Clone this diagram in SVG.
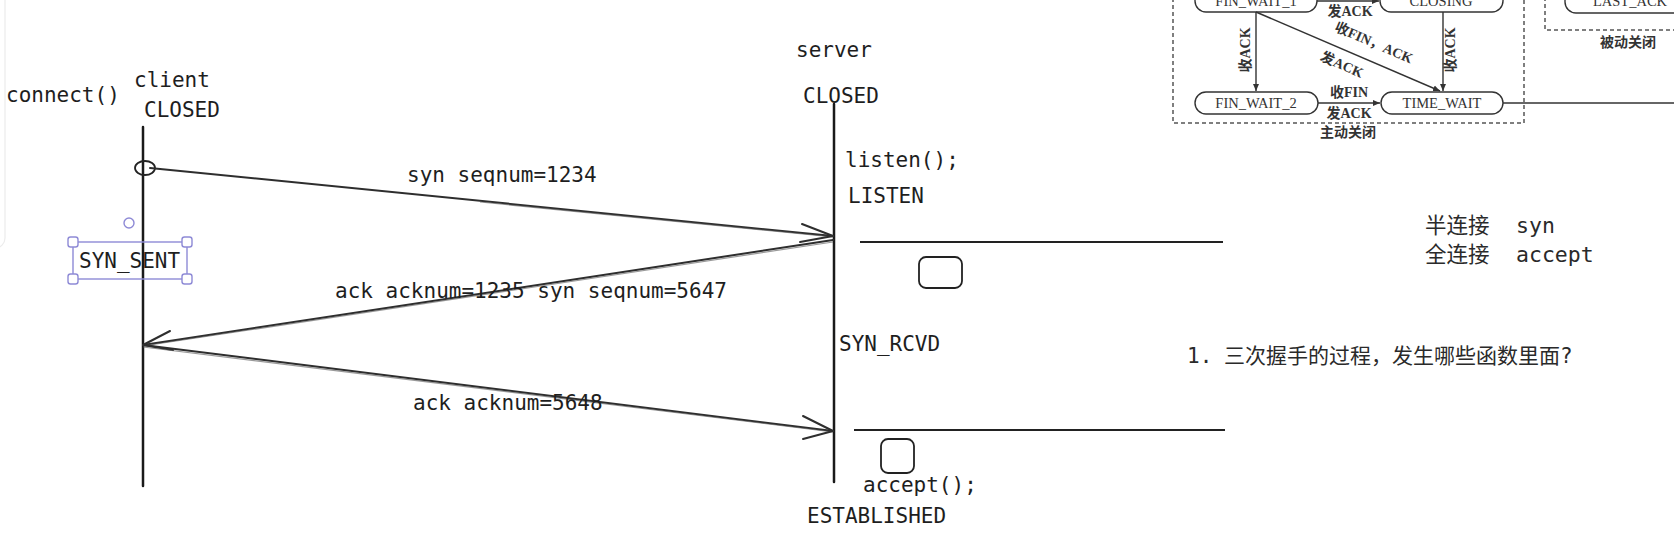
<svg xmlns="http://www.w3.org/2000/svg" width="1674" height="535" viewBox="0 0 1674 535">
<style>
.mono{font-family:"DejaVu Sans Mono","Noto Sans CJK SC",monospace;font-size:21px;fill:#1e1e1e}
.cjk{font-family:"DejaVu Sans Mono","Noto Sans CJK SC",sans-serif;fill:#2a2a2a}
.life{stroke:#1a1a1a;stroke-width:2.5;fill:none;stroke-linecap:round}
.msg{stroke:#2e2e2e;stroke-width:2;fill:none;stroke-linecap:round;stroke-linejoin:round}
.msg2{stroke:#555;stroke-width:1.2;fill:none;opacity:0.6}
.hand{stroke:#222;stroke-width:1.8;fill:none}
.sel{stroke:#8e8ad6;stroke-width:1.4;fill:none}
.handle{stroke:#8e8ad6;stroke-width:1.4;fill:#fff}
.fig{stroke:#333;stroke-width:1.4;fill:#fff}
.figl{stroke:#333;stroke-width:1.4;fill:none}
.dash{stroke:#555;stroke-width:1.5;fill:none;stroke-dasharray:4 3}
.st{font-family:"Liberation Serif","Noto Sans CJK SC",serif;font-size:14.5px;fill:#333;text-anchor:middle}
.lb{font-family:"Liberation Serif","Noto Sans CJK SC",serif;font-size:14px;font-weight:bold;fill:#333;text-anchor:middle}
</style>
<defs>
<marker id="ah" markerWidth="8" markerHeight="8" refX="7" refY="4" orient="auto" markerUnits="userSpaceOnUse">
<path d="M0,1 L7,4 L0,7 Z" fill="#333"/>
</marker>
</defs>
<rect width="1674" height="535" fill="#fff"/>
<rect x="-20" y="-20" width="25" height="268" rx="10" fill="none" stroke="#ececec" stroke-width="1.2"/>

<!-- Top-right textbook figure -->
<g id="figure">
<rect class="dash" x="1173" y="-20" width="351" height="143"/>
<rect class="dash" x="1545" y="-20" width="160" height="50"/>
<g id="fin_wait_1"><rect class="fig" x="1195" y="-12" width="122" height="24" rx="11"/><text class="st" x="1256" y="6">FIN_WAIT_1</text></g>
<g id="closing"><rect class="fig" x="1380" y="-12" width="123" height="24" rx="11"/><text class="st" x="1441" y="6">CLOSING</text></g>
<g id="last_ack"><rect class="fig" x="1565" y="-12" width="140" height="25" rx="11"/><text class="st" x="1630" y="6">LAST_ACK</text></g>
<g id="fin_wait_2"><rect class="fig" x="1195" y="92" width="123" height="22" rx="11"/><text class="st" x="1256" y="108">FIN_WAIT_2</text></g>
<g id="time_wait"><rect class="fig" x="1381" y="92" width="122" height="22" rx="11"/><text class="st" x="1442" y="108">TIME_WAIT</text></g>
<g id="fig_edges">
<line class="figl" x1="1317" y1="1" x2="1379" y2="1" marker-end="url(#ah)"/>
<line class="figl" x1="1256" y1="12" x2="1256" y2="91" stroke-width="1.8" marker-end="url(#ah)"/>
<line class="figl" x1="1256" y1="12" x2="1440" y2="91" marker-end="url(#ah)"/>
<line class="figl" x1="1443" y1="12" x2="1443" y2="91" marker-end="url(#ah)"/>
<line class="figl" x1="1318" y1="103" x2="1380" y2="103" stroke-width="2" marker-end="url(#ah)"/>
<line class="figl" x1="1503" y1="103" x2="1674" y2="103" stroke-width="2.6"/>
</g>
<text class="lb" x="1350" y="16">发ACK</text>
<text class="lb" transform="translate(1250,50) rotate(-90)">收ACK</text>
<text class="lb" transform="translate(1455,50) rotate(-90)">收ACK</text>
<text class="lb" transform="translate(1372,47) rotate(23.5)">收FIN，ACK</text>
<text class="lb" transform="translate(1340,69) rotate(23.5)">发ACK</text>
<text class="lb" x="1349" y="97">收FIN</text>
<text class="lb" x="1349" y="118">发ACK</text>
<text class="lb" x="1348" y="137">主动关闭</text>
<text class="lb" x="1628" y="47">被动关闭</text>
</g>

<!-- Client lifeline -->
<g id="client">
<text class="mono" x="6" y="102">connect()</text>
<text class="mono" x="134" y="87">client</text>
<text class="mono" x="144" y="117">CLOSED</text>
<line class="life" x1="143" y1="127" x2="143" y2="486"/>
<ellipse class="hand" cx="145" cy="168" rx="10" ry="7"/>
</g>

<g id="syn_sent">
<text class="mono" x="79" y="268">SYN_SENT</text>
<rect class="sel" x="73" y="242" width="114" height="37"/>
<rect class="handle" x="68" y="237" width="10" height="10" rx="2.5"/>
<rect class="handle" x="182" y="237" width="10" height="10" rx="2.5"/>
<rect class="handle" x="68" y="274" width="10" height="10" rx="2.5"/>
<rect class="handle" x="182" y="274" width="10" height="10" rx="2.5"/>
<circle class="handle" cx="129" cy="223" r="5"/>
</g>

<!-- Server lifeline -->
<g id="server">
<text class="mono" x="796" y="57">server</text>
<text class="mono" x="803" y="103">CLOSED</text>
<line class="life" x1="834" y1="104" x2="834" y2="482"/>
<text class="mono" x="845" y="167">listen();</text>
<text class="mono" x="848" y="203">LISTEN</text>
<text class="mono" x="839" y="351">SYN_RCVD</text>
<text class="mono" x="863" y="492">accept();</text>
<text class="mono" x="807" y="523">ESTABLISHED</text>
</g>

<g id="syn_queue">
<line class="hand" x1="860" y1="242" x2="1223" y2="242"/>
<rect class="hand" x="919" y="257" width="43" height="31" rx="7"/>
</g>
<g id="accept_queue">
<line class="hand" x1="854" y1="430" x2="1225" y2="430"/>
<rect class="hand" x="881" y="439" width="33" height="34" rx="7"/>
</g>

<!-- Connectors -->
<g id="connectors">
<g id="msg_syn">
<line class="msg" x1="150" y1="168" x2="833" y2="236"/>
<line class="msg2" x1="480" y1="202" x2="833" y2="237"/>
<polyline class="msg" points="802,224 833,236 800,242"/>
</g>
<g id="msg_synack">
<line class="msg" x1="833" y1="240" x2="143" y2="345"/>
<line class="msg2" x1="833" y1="242" x2="143" y2="346"/>
<polyline class="msg" points="170,331 143,345 173,350"/>
</g>
<g id="msg_ack">
<line class="msg" x1="143" y1="345" x2="833" y2="431"/>
<line class="msg2" x1="143" y1="347" x2="833" y2="432"/>
<polyline class="msg" points="803,416 833,431 803,439"/>
</g>
</g>

<g id="labels">
<text class="mono" x="407" y="182">syn seqnum=1234</text>
<text class="mono" x="335" y="298">ack acknum=1235 syn seqnum=5647</text>
<text class="mono" x="413" y="410">ack acknum=5648</text>
</g>

<g id="notes">
<text class="cjk" font-size="21.5" x="1425" y="233">半连接<tspan x="1516">syn</tspan></text>
<text class="cjk" font-size="21.5" x="1425" y="262">全连接<tspan x="1516">accept</tspan></text>
<text class="cjk" font-size="21" x="1187" y="363">1.<tspan x="1224">三次握手的过程，发生哪些函数里面?</tspan></text>
</g>
</svg>
